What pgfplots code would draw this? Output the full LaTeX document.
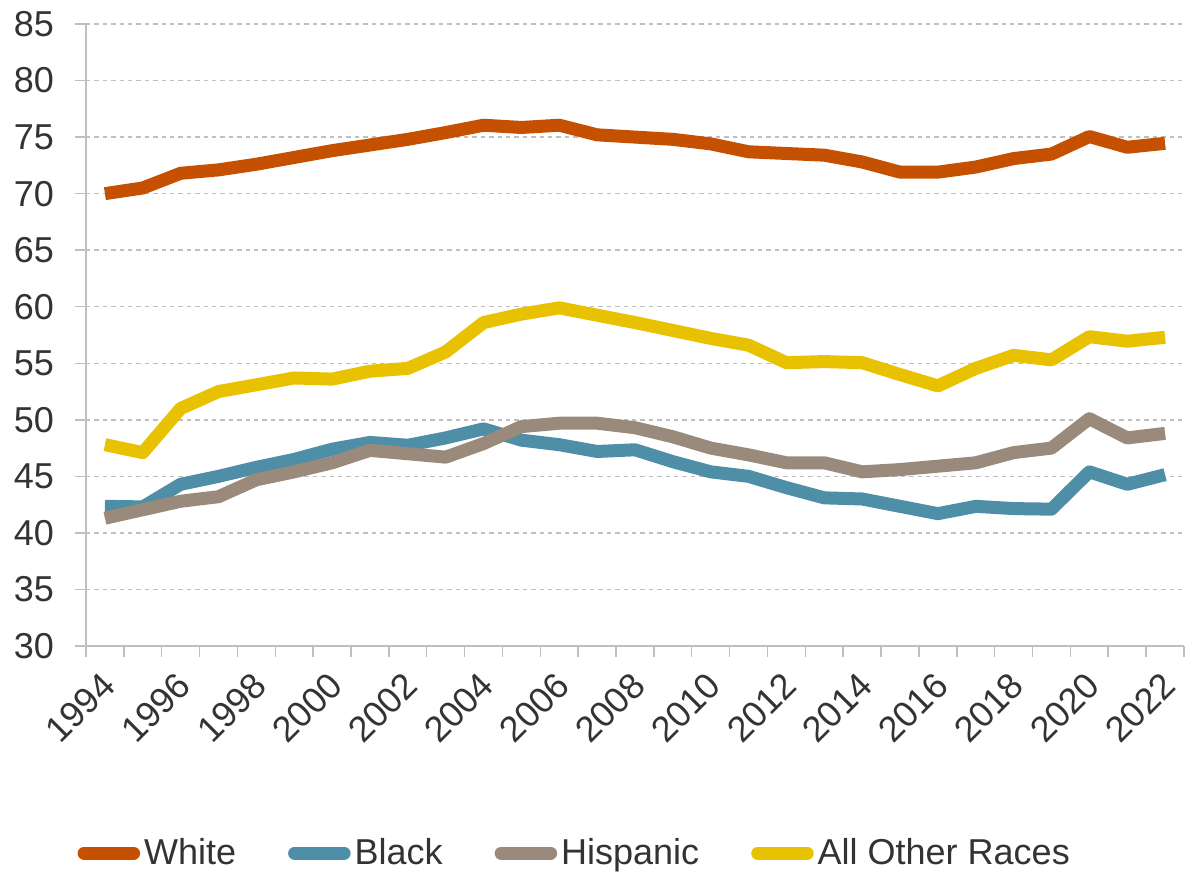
\documentclass[border=0pt]{standalone}
\usepackage{fontspec}
\setmainfont{Liberation Sans}
\usepackage{pgfplots}
\pgfplotsset{compat=1.18}
\usepackage{pgfplotstable}
\definecolor{cWhite}{RGB}{196,80,0}
\definecolor{cBlack}{RGB}{79,142,167}
\definecolor{cHisp}{RGB}{153,138,124}
\definecolor{cOther}{RGB}{232,194,0}
\definecolor{axgray}{RGB}{191,191,191}
\definecolor{txt}{RGB}{51,51,51}

\pgfplotstableread{
year white black hisp other
1994 70.0  42.35 41.3 47.8
1995 70.5  42.3  42.05 47.1
1996 71.8  44.3  42.8 51.0
1997 72.1  45.0  43.2 52.5
1998 72.6  45.8  44.7 53.1
1999 73.2  46.5  45.4 53.7
2000 73.8  47.4  46.2 53.6
2001 74.3  48.0  47.3 54.3
2002 74.8  47.75 47.0 54.55
2003 75.4  48.4  46.7 56.0
2004 76.05 49.2  47.9 58.6
2005 75.85 48.2  49.4 59.35
2006 76.05 47.8  49.7 59.9
2007 75.2  47.2  49.7 59.25
2008 75.0  47.35 49.3 58.6
2009 74.8  46.3  48.5 57.9
2010 74.4  45.4  47.5 57.2
2011 73.7  45.0  46.9 56.6
2012 73.55 44.0  46.2 55.05
2013 73.4  43.1  46.2 55.15
2014 72.8  43.0  45.4 55.05
2015 71.9  42.35 45.6 54.0
2016 71.9  41.7  45.9 53.0
2017 72.35 42.35 46.2 54.55
2018 73.1  42.15 47.1 55.7
2019 73.5  42.1  47.5 55.3
2020 75.05 45.4  50.1 57.35
2021 74.1  44.3  48.4 56.95
2022 74.45 45.15 48.8 57.3
}\datatable

\begin{document}
\begin{tikzpicture}
\begin{axis}[
  at={(0,0)}, anchor=south west,
  scale only axis, width=549pt, height=311pt,
  xmin=1993.5, xmax=2022.5,
  ymin=30, ymax=85,
  ytick={30,35,...,85},
  xtick={1994,1996,...,2022},
  xticklabels={1994,1996,1998,2000,2002,2004,2006,2008,2010,2012,2014,2016,2018,2020,2022},
  minor xtick={1993.5,1994.5,...,2022.5},
  major x tick style={draw=none},
  minor tick length=5.5pt,
  major tick length=5.5pt,
  tick align=outside,
  tick style={axgray, line width=0.75pt},
  axis x line*=bottom, axis y line*=left,
  axis line style={axgray, line width=0.75pt, -},
  ymajorgrids,
  grid style={axgray, line width=0.75pt, dash pattern=on 2.2pt off 2pt},
  /pgf/number format/assume math mode=true,
  ticklabel style={font=\fontsize{18}{20}\selectfont, text=txt},
  yticklabel style={xshift=-7pt},
  xticklabel style={rotate=45, anchor=east, xshift=-3.2pt, yshift=-9.2pt},
  clip=false,
  legend columns=4,
  legend style={draw=none, at={(rel axis cs:0.446,-0.333)}, anchor=center,
    font=\fontsize{18}{20}\selectfont, text=txt,
    /tikz/every odd column/.append style={column sep=0pt},
    /tikz/every even column/.append style={column sep=24pt},
    inner sep=0pt},
  legend image code/.code={\draw[#1, line width=6.5pt, line cap=round] (3.25pt,0pt) -- (28pt,0pt);},
  every axis plot/.append style={line width=6.5pt, line join=round},
]
\addplot[cWhite] table[x=year, y=white] {\datatable};
\addlegendentry{White}
\addplot[cBlack] table[x=year, y=black] {\datatable};
\addlegendentry{Black}
\addplot[cHisp] table[x=year, y=hisp] {\datatable};
\addlegendentry{Hispanic}
\addplot[cOther] table[x=year, y=other] {\datatable};
\addlegendentry{All Other Races}
\end{axis}
\pgfresetboundingbox
\path (-43pt,-112.5pt) rectangle (550pt,323pt);
\end{tikzpicture}
\end{document}
